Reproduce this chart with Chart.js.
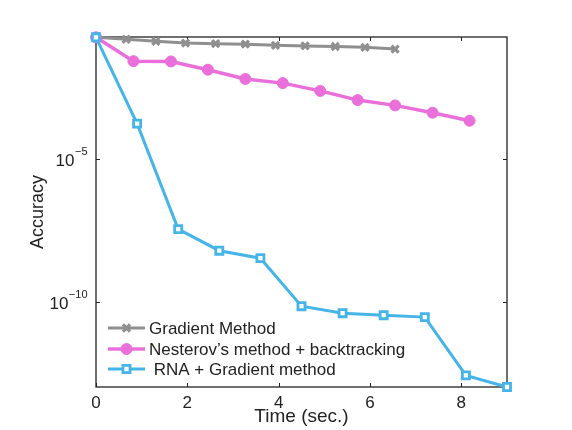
<!DOCTYPE html>
<html>
<head>
<meta charset="utf-8">
<script src="https://cdn.jsdelivr.net/npm/chart.js@4"></script>
<style>
  html, body { margin: 0; padding: 0; background: #fff; }
  #wrap { width: 572px; height: 430px; }
</style>
</head>
<body>
<div id="wrap"><canvas id="accChart"></canvas></div>
<script>
// values (time in sec., accuracy on a log axis)
const gradTime = [0, 0.66, 1.31, 1.96, 2.62, 3.27, 3.93, 4.58, 5.24, 5.89, 6.55];
const gradAcc = [0.17, 0.145, 0.123, 0.107, 0.102, 0.098, 0.089, 0.085, 0.081, 0.076, 0.066];

const nestTime = [0, 0.82, 1.64, 2.45, 3.27, 4.09, 4.91, 5.73, 6.55, 7.37, 8.18];
const nestAcc = [0.17, 0.025, 0.0245, 0.0126, 0.006, 0.0043, 0.0023, 0.0011, 7.2e-4, 4.0e-4, 2.1e-4];

const rnaTime = [0, 0.9, 1.8, 2.7, 3.6, 4.5, 5.4, 6.3, 7.2, 8.1, 9.0];
const rnaAcc = [0.17, 1.66e-4, 3.5e-8, 6.2e-9, 3.4e-9, 7.2e-11, 4.1e-11, 3.5e-11, 3.0e-11, 2.8e-13, 1.1e-13];

const seriesNames = ['Gradient Method', 'Nesterov\u2019s method + backtracking', ' RNA + Gradient method'];
const xTicks = [0, 2, 4, 6, 8];
const yTickExps = [-5, -10];

const FONT = '"Liberation Sans", Arial, Helvetica, sans-serif';
const INK = '#222';

function pts(xs, ys) {
  return xs.map((x, i) => ({ x: x, y: ys[i] }));
}

const styles = [
  { color: '#8f8f8f', point: 'crossRot', radius: 5, width: 3, fill: '#8f8f8f', pw: 3.2 },
  { color: '#ea6fdb', point: 'circle', radius: 5.5, width: 3.5, fill: '#ea6fdb', pw: 1 },
  { color: '#45b4e8', point: 'rect', radius: 5, width: 3, fill: '#ffffff', pw: 2.8 },
];

function makeDataset(i, data) {
  const s = styles[i];
  return {
    label: seriesNames[i],
    data: data,
    borderColor: s.color,
    borderWidth: s.width,
    backgroundColor: s.fill,
    pointStyle: s.point,
    pointRadius: s.radius,
    pointBorderWidth: s.pw,
    pointBorderColor: s.color,
    pointBackgroundColor: s.fill,
    tension: 0,
    clip: false,
    order: 2 - i,
  };
}

// box, inward ticks, y labels with exponents and legend inside the plot
const framePlugin = {
  id: 'frame',
  beforeDatasetsDraw(chart) {
    const { ctx, chartArea: a, scales } = chart;
    ctx.save();
    ctx.strokeStyle = INK;
    ctx.lineWidth = 1.3;
    ctx.strokeRect(a.left, a.top, a.right - a.left, a.bottom - a.top);
    ctx.lineWidth = 1;
    const tl = 4;
    xTicks.forEach(v => {
      const px = Math.round(scales.x.getPixelForValue(v)) + 0.5;
      ctx.beginPath();
      ctx.moveTo(px, a.bottom); ctx.lineTo(px, a.bottom - tl);
      ctx.moveTo(px, a.top); ctx.lineTo(px, a.top + tl);
      ctx.stroke();
    });
    yTickExps.forEach(e => {
      const py = Math.round(scales.y.getPixelForValue(Math.pow(10, e))) + 0.5;
      ctx.beginPath();
      ctx.moveTo(a.left, py); ctx.lineTo(a.left + tl, py);
      ctx.moveTo(a.right, py); ctx.lineTo(a.right - tl, py);
      ctx.stroke();
    });
    // y tick labels: 10 with superscript exponent
    ctx.fillStyle = INK;
    ctx.textBaseline = 'alphabetic';
    ctx.textAlign = 'left';
    yTickExps.forEach(e => {
      const py = scales.y.getPixelForValue(Math.pow(10, e));
      const exp = '\u2212' + Math.abs(e);
      ctx.font = '11px ' + FONT;
      const we = ctx.measureText(exp).width;
      ctx.font = '17px ' + FONT;
      const wb = ctx.measureText('10').width;
      const right = a.left - 9;
      const x0 = right - we - wb;
      ctx.fillText('10', x0, py + 7);
      ctx.font = '11px ' + FONT;
      ctx.fillText(exp, x0 + wb + 0.5, py - 4);
    });
    ctx.restore();
  },
  afterDraw(chart) {
    const { ctx } = chart;
    const x1 = 108, x2 = 145, tx = 149;
    const rows = [328, 349, 369];
    ctx.save();
    rows.forEach((y, i) => {
      const s = styles[i];
      ctx.strokeStyle = s.color;
      ctx.lineWidth = s.width;
      ctx.beginPath();
      ctx.moveTo(x1, y); ctx.lineTo(x2, y);
      ctx.stroke();
      ctx.strokeStyle = s.color;
      ctx.fillStyle = s.fill;
      ctx.lineWidth = s.pw;
      Chart.helpers.drawPoint(ctx, { pointStyle: s.point, radius: s.radius, rotation: 0, borderWidth: s.pw }, (x1 + x2) / 2, y);
      ctx.fillStyle = INK;
      ctx.font = '17px ' + FONT;
      ctx.textBaseline = 'middle';
      ctx.textAlign = 'left';
      ctx.fillText(seriesNames[i], tx, y + 1);
    });
    ctx.restore();
  },
};

new Chart(document.getElementById('accChart').getContext('2d'), {
  type: 'line',
  data: {
    datasets: [
      makeDataset(0, pts(gradTime, gradAcc)),
      makeDataset(1, pts(nestTime, nestAcc)),
      makeDataset(2, pts(rnaTime, rnaAcc)),
    ],
  },
  options: {
    responsive: true,
    maintainAspectRatio: false,
    animation: false,
    layout: { padding: { left: 0, right: 65, top: 37, bottom: 0 } },
    plugins: {
      legend: { display: false },
      tooltip: { enabled: false },
    },
    scales: {
      x: {
        type: 'linear',
        min: 0,
        max: 9,
        afterBuildTicks: (s) => { s.ticks = xTicks.map(v => ({ value: v })); },
        afterFit: (s) => { s.height = 43; },
        grid: { display: false, drawTicks: false },
        border: { display: false },
        ticks: {
          color: INK,
          padding: 6,
          maxRotation: 0,
          font: { family: FONT, size: 17 },
        },
        title: {
          display: true,
          text: 'Time (sec.)',
          color: INK,
          font: { family: FONT, size: 19 },
          padding: { top: 0, bottom: 2 },
        },
      },
      y: {
        type: 'logarithmic',
        min: 1.1e-13,
        max: 0.174,
        afterFit: (s) => { s.width = 96; },
        grid: { display: false, drawTicks: false },
        border: { display: false },
        ticks: { display: false },
        title: {
          display: true,
          text: 'Accuracy',
          color: INK,
          font: { family: FONT, size: 18 },
          padding: { top: 27, bottom: 0 },
        },
      },
    },
  },
  plugins: [framePlugin],
});
</script>
</body>
</html>
